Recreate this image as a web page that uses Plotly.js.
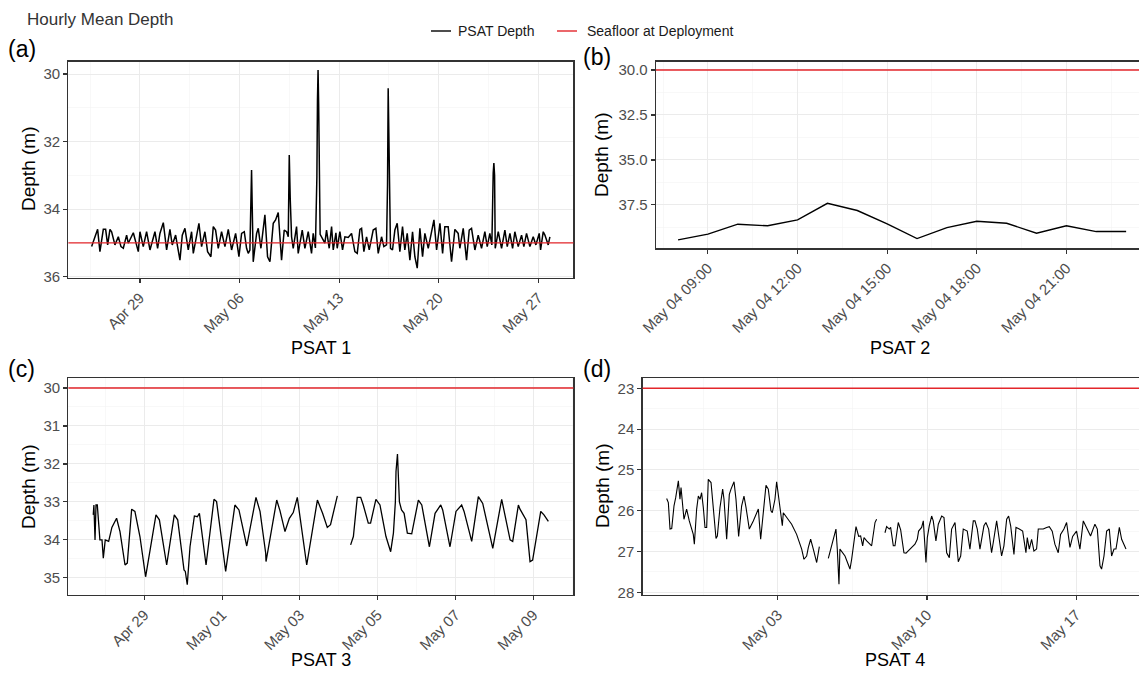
<!DOCTYPE html>
<html>
<head>
<meta charset="utf-8">
<script src="https://cdn.plot.ly/plotly-3.0.1.min.js"></script>
<style>html,body{margin:0;padding:0;background:#fff;}#chart{width:1139px;height:673px;}</style>
</head>
<body>
<div id="chart"></div>
<script>
// ---------------- DATA ----------------
const chartTitle = "Hourly Mean Depth";
const panelTags = ["(a)", "(b)", "(c)", "(d)"];
const panelNames = ["PSAT 1", "PSAT 2", "PSAT 3", "PSAT 4"];
const legendLabels = ["PSAT Depth", "Seafloor at Deployment"];
const seafloorDepth = [35, 30, 30, 23];

// PSAT 1: hours after 2021-04-29 00:00 and depth (m)
const p1Base = "2021-04-29T00:00:00";
const p1Hours = [
 -81.5,-71.4,-67.5,-61.8,-57.9,-54.5,-50.6,-47.8,-42.2,-36.5,
 -32.0,-28.1,-22.5,-19.7,-11.2,-5.6,-2.8,0,5.6,11.2,
 16.9,25.3,29.8,33.7,39.4,45.0,50.6,54.5,60.2,63.5,
 67.5,71.4,75.9,81.5,87.1,90.0,99.5,104.0,109.6,114.1,
 119.7,123.7,127.6,132.1,137.7,143.4,149.0,154.6,161.4,167.0,
 171.5,176.0,179.9,182.7,185.5,188.3,189.5,191.1,196.8,199.6,
 204.1,210.8,215.3,219.3,224.9,228.8,233.3,238.9,243.4,247.4,
 250.2,251.9,253.6,255.8,258.6,264.2,267.0,273.8,278.3,283.9,
 289.5,292.3,296.0,298.5,299.5,300.5,301.5,302.5,304.0,312.0,
 314.8,319.3,323.3,326.1,330.6,332.8,337.3,341.8,345.8,351.4,
 357.0,362.6,366.6,371.1,373.9,377.8,382.3,386.8,393.5,398.0,
 402.0,407.6,411.5,416.0,417.7,418.8,419.9,421.0,422.7,426.1,
 430.1,434.0,438.5,443.0,446.9,450.9,455.4,459.9,463.8,467.8,
 472.3,476.8,480.7,486.4,492.0,496.0,500.5,506.1,510.6,514.4,
 520.0,525.7,531.3,536.9,539.7,545.4,551.0,555.5,559.4,565.1,
 570.7,576.3,581.9,585.9,590.3,593.7,596.0,597.1,598.3,599.4,
 604.5,610.1,615.7,619.7,624.2,628.7,632.5,638.2,643.8,647.7,
 652.2,657.9,663.5,668.0,673.6,675.9,680.4,683.2,688.8,691.6
];
const p1Depth = [
 35.11,34.60,35.26,34.60,34.60,35.06,34.60,34.67,35.06,34.82,
 35.11,35.16,34.77,35.01,34.70,35.11,35.26,34.67,35.11,34.67,
 35.21,34.67,35.16,34.72,34.40,35.21,34.60,35.06,34.77,35.11,
 35.51,34.77,34.57,35.21,34.67,35.31,34.42,35.11,34.67,35.26,
 35.41,34.52,34.62,35.16,34.67,35.11,34.60,35.21,34.72,35.41,
 34.72,34.67,35.16,35.31,35.21,32.84,33.82,35.56,34.72,34.57,
 35.16,34.17,35.41,35.56,34.42,34.32,34.10,35.51,34.62,34.67,
 34.82,32.40,33.73,34.82,35.16,34.52,35.31,34.62,35.16,34.67,
 35.31,34.72,35.15,33.05,30.77,29.88,30.90,32.52,34.75,35.01,
 34.62,35.16,34.52,35.21,34.70,35.16,34.67,35.21,34.82,34.84,
 34.72,35.26,35.31,34.60,34.57,35.26,34.82,35.21,34.62,34.57,
 35.31,34.82,35.11,35.06,33.29,30.42,31.72,33.29,35.16,35.21,
 34.62,34.42,35.26,34.52,35.21,34.72,35.51,34.67,35.41,35.75,
 34.57,35.41,34.72,35.16,34.62,34.32,35.21,34.42,35.31,34.52,
 34.52,35.56,34.60,34.72,35.16,34.57,35.51,34.62,34.57,35.21,
 34.77,35.16,34.67,35.11,34.72,35.06,32.93,32.64,33.00,35.16,
 34.67,35.16,34.62,35.11,34.72,35.16,34.67,35.11,34.77,35.11,
 34.72,35.11,34.82,35.06,34.72,35.21,34.67,34.77,35.06,34.82
];

// PSAT 2: hour of day on 2021-05-04 and depth (m)
const p2Base = "2021-05-04T00:00:00";
const p2Hours = [8,9,10,11,12,13,14,15,16,17,18,19,20,21,22,23];
const p2Depth = [39.44,39.12,38.57,38.66,38.33,37.41,37.81,38.55,39.37,38.76,38.41,38.52,39.07,38.66,38.98,38.98];

// PSAT 3: hours after 2021-04-29 00:00 and depth (m); null = gap in record
const p3Base = "2021-04-29T00:00:00";
const p3Hours = [
 -31.5,-31.1,-30.4,-29.8,-29.0,-28.4,-27.4,-26.1,-25.3,-24.1,
 -22.0,-20.0,-17.1,-15.0,-11.9,-10.5,-7.8,-5.8,-2.7,0.8,
 4.5,7.2,9.3,13.8,18.5,20.6,24.5,25.3,26.5,28.2,
 30.9,32.7,34.0,38.1,43.0,44.6,50.2,55.9,58.4,63.2,
 68.9,71.4,74.9,75.1,81.7,83.7,86.8,89.5,91.9,94.4,
 100.2,106.8,110.0,112.9,114.9,119.1,
 123.0,
 127.3,129.0,131.4,133.5,135.1,138.2,139.6,142.9,145.4,149.1,
 152.0,153.7,154.9,155.3,156.2,156.6,157.4,158.7,160.3,162.3,
 165.0,169.1,171.2,175.9,179.4,182.9,184.1,188.6,192.3,195.8,
 197.3,202.0,206.1,208.8,215.0,220.5,225.7,227.3,230.8,231.8,
 235.5,238.0,239.6,244.6,246.6,249.3
];
const p3Depth = [
 33.34,33.08,34.00,33.08,33.08,33.56,34.00,34.00,34.48,34.00,
 34.04,33.67,33.43,33.78,34.66,34.61,33.19,33.25,33.91,34.97,
 34.00,33.34,33.47,34.66,33.34,33.47,34.79,34.83,35.18,34.18,
 33.37,33.39,33.30,34.66,32.93,32.99,34.83,33.08,33.21,34.16,
 32.88,33.25,34.35,34.57,32.95,33.23,33.78,33.43,33.28,32.88,
 34.66,32.95,33.30,33.67,33.60,32.84,
 null,
 34.13,33.91,32.88,32.88,33.08,33.56,33.56,32.93,33.08,33.91,
 34.31,33.82,33.00,32.20,31.74,32.42,33.00,33.21,33.30,33.82,
 33.84,32.95,33.08,34.18,33.30,33.08,33.21,34.18,33.25,33.08,
 33.25,34.04,32.86,33.04,34.22,32.93,34.00,34.04,33.08,33.19,
 33.47,34.57,34.53,33.25,33.34,33.51
];

// PSAT 4: hours after 2021-05-03 00:00 and depth (m); null = gap in record
const p4Base = "2021-05-03T00:00:00";
const p4Hours = [
 -125.3,-123.4,-121.5,-119.6,-117.0,-115.1,-112.1,-110.3,-109.1,-107.2,
 -105.8,-102.8,-99.8,-95.3,-94.1,-91.5,-89.6,-87.7,-85.9,-84.0,
 -82.1,-80.2,-78.4,-75.3,-72.7,-69.7,-68.2,-65.2,-62.2,-60.7,
 -57.7,-54.7,-52.8,-49.4,-47.2,-44.2,-40.8,-38.2,-35.9,-32.2,
 -27.7,-22.0,-19.4,-13.4,-10.8,-7.8,-6.3,-3.3,-1.4,0.9,
 3.1,5.0,6.1,9.9,15.5,21.1,26.8,29.4,32.4,34.3,
 36.9,39.9,43.7,46.7,
 51.0,
 56.8,60.6,63.2,65.4,66.9,68.8,69.9,71.8,75.6,81.2,
 83.1,88.0,91.0,93.2,95.5,97.0,100.0,105.6,109.4,111.2,
 115.0,
 120.6,122.5,125.5,127.0,130.0,131.9,135.6,138.3,142.0,144.3,
 148.8,154.4,157.0,158.5,161.9,163.8,166.8,168.3,170.5,173.2,
 175.0,178.0,180.7,184.5,187.1,190.1,193.1,195.7,199.5,203.2,
 205.9,208.8,213.3,216.3,220.1,222.0,224.6,227.6,232.1,234.3,
 237.4,240.7,242.6,246.4,248.3,252.0,254.6,257.7,259.9,262.2,
 265.9,268.2,271.9,275.7,279.4,280.9,283.2,285.8,288.4,291.4,
 293.3,298.9,302.7,305.7,309.0,312.0,315.8,318.4,322.2,325.2,
 329.0,332.0,336.4,340.2,344.0,347.0,349.6,352.2,357.1,359.8,
 362.8,364.6,367.3,370.3,373.3,375.9,378.6,380.8,382.3,384.6,
 387.2,389.9,392.1
];
const p4Depth = [
 25.70,25.80,26.45,26.44,25.88,25.68,25.27,25.72,25.43,25.96,
 26.21,25.96,26.25,26.58,26.82,25.96,25.64,25.72,25.56,25.92,
 26.41,26.41,25.23,25.31,26.00,26.68,26.62,25.92,25.47,25.72,
 26.70,25.60,25.47,25.29,25.72,26.63,25.88,25.64,25.92,26.45,
 26.25,25.96,26.70,25.38,25.47,26.00,26.05,25.72,25.29,25.72,
 26.05,26.37,26.05,26.17,26.33,26.58,26.94,27.19,27.11,26.90,
 26.70,26.94,27.27,26.88,
 null,
 27.17,26.86,26.62,26.45,26.94,27.80,26.94,26.99,27.11,27.43,
 27.19,26.39,26.63,26.62,26.86,26.66,26.74,26.86,26.29,26.21,
 null,
 26.54,26.39,26.45,26.41,26.86,26.86,26.29,26.47,27.03,27.04,
 26.94,26.82,26.70,26.50,26.41,26.25,27.27,26.66,26.37,26.13,
 26.25,26.74,26.33,26.13,26.17,27.03,27.15,26.45,26.29,27.25,
 27.11,26.45,26.50,26.94,26.25,26.25,26.45,26.94,26.37,26.29,
 26.45,27.03,26.78,26.25,26.54,27.11,26.86,26.21,26.13,26.37,
 27.07,26.41,26.45,26.50,27.03,26.66,26.94,26.70,26.99,26.94,
 26.45,26.45,26.41,26.39,26.50,26.82,27.03,26.58,26.45,26.29,
 26.90,26.63,26.50,26.94,26.25,26.39,26.50,26.62,26.33,26.45,
 27.35,27.43,27.11,26.50,26.45,27.11,26.94,26.94,26.74,26.41,
 26.70,26.82,26.94
];

// ---------------- BUILD ----------------
function toDates(base, hours) {
  const b = Date.parse(base + "Z");
  return hours.map(h => new Date(b + h * 3600000).toISOString().slice(0, 19).replace("T", " "));
}
const W = 1139, H = 673;
const px = v => v / W;
const py = v => 1 - v / H;
const DAY = 86400000, HOUR = 3600000;
const FONT = "Liberation Sans, Arial, Helvetica, sans-serif";

const traces = [
  {x: toDates(p1Base, p1Hours), y: p1Depth, xaxis: "x", yaxis: "y", type: "scatter", mode: "lines",
   line: {color: "#000", width: 1.5}, connectgaps: false, hoverinfo: "skip"},
  {x: toDates(p2Base, p2Hours), y: p2Depth, xaxis: "x2", yaxis: "y2", type: "scatter", mode: "lines",
   line: {color: "#000", width: 1.4}, hoverinfo: "skip"},
  {x: toDates(p3Base, p3Hours), y: p3Depth, xaxis: "x3", yaxis: "y3", type: "scatter", mode: "lines",
   line: {color: "#000", width: 1.3}, connectgaps: false, hoverinfo: "skip"},
  {x: toDates(p4Base, p4Hours), y: p4Depth, xaxis: "x4", yaxis: "y4", type: "scatter", mode: "lines",
   line: {color: "#000", width: 1.1}, connectgaps: false, hoverinfo: "skip"}
];

function xAxis(d0, d1, range, tick0, dtick, minorDtick, fmt, anchor) {
  return {
    domain: [px(d0), Math.min(1, px(d1))], anchor: anchor, type: "date", range: range,
    tick0: tick0, dtick: dtick, tickformat: fmt, tickangle: -45,
    showline: true, mirror: true, linecolor: "#333", linewidth: 1.3,
    ticks: "outside", ticklen: 4, tickwidth: 1.1, tickcolor: "#333",
    tickfont: {family: FONT, size: 15, color: "#4d4d4d"},
    showgrid: true, gridcolor: "#ebebeb", gridwidth: 1, zeroline: false,
    minor: {tick0: tick0, dtick: minorDtick, showgrid: true, gridcolor: "#f3f3f3", gridwidth: 0.6, ticks: ""}
  };
}
function yAxis(t0, t1, range, tick0, dtick, fmt, anchor, mirror) {
  return {
    domain: [py(t1), py(t0)], anchor: anchor, range: range,
    tick0: tick0, dtick: dtick, tickformat: fmt,
    showline: true, mirror: mirror, linecolor: "#333", linewidth: 1.3,
    ticks: "outside", ticklen: 4, tickwidth: 1.1, tickcolor: "#333",
    tickfont: {family: FONT, size: 15, color: "#4d4d4d"},
    showgrid: true, gridcolor: "#ebebeb", gridwidth: 1, zeroline: false,
    minor: {dtick: dtick / 2, showgrid: true, gridcolor: "#f3f3f3", gridwidth: 0.6, ticks: ""}
  };
}

const layout = {
  width: W, height: H, margin: {l: 0, r: 0, t: 0, b: 0},
  paper_bgcolor: "#fff", plot_bgcolor: "#fff", showlegend: false,
  font: {family: FONT, color: "#000"},
  xaxis: xAxis(68.4, 573.4, ["2021-04-23 23:17", "2021-05-29 11:17"], "2021-04-29", 7 * DAY, 3.5 * DAY, "%b %d", "y"),
  yaxis: yAxis(61.5, 278, [36.04, 29.63], 30, 2, "", "x", true),
  xaxis2: xAxis(656, 1139, ["2021-05-04 07:15:40", "2021-05-04 23:25:50"], "2021-05-04 09:00", 3 * HOUR, 1.5 * HOUR, "%b %d %H:%M", "y2"),
  yaxis2: yAxis(61.7, 248.3, [39.91, 29.54], 30, 2.5, ".1f", "x2", false),
  xaxis3: xAxis(68.4, 573.4, ["2021-04-27 01:10", "2021-05-10 00:45"], "2021-04-29", 2 * DAY, 1 * DAY, "%b %d", "y3"),
  yaxis3: yAxis(378.3, 595, [35.45, 29.745], 30, 1, "", "x3", true),
  xaxis4: xAxis(642.6, 1139, ["2021-04-26 15:37", "2021-05-19 22:45"], "2021-05-03", 7 * DAY, 3.5 * DAY, "%b %d", "y4"),
  yaxis4: yAxis(378.3, 595, [28.066, 22.755], 23, 1, "", "x4", false),
  shapes: [],
  annotations: []
};

// seafloor reference lines
const axPairs = [["x", "y"], ["x2", "y2"], ["x3", "y3"], ["x4", "y4"]];
seafloorDepth.forEach((d, i) => {
  layout.shapes.push({type: "line", xref: axPairs[i][0] + " domain", yref: axPairs[i][1],
    x0: 0, x1: 1, y0: d, y1: d, line: {color: "#e3262b", width: 1.4}, layer: "above"});
});

// legend (drawn manually to match the compact ggplot legend)
layout.shapes.push({type: "line", xref: "paper", yref: "paper", x0: px(431), x1: px(451), y0: py(31), y1: py(31), line: {color: "#000", width: 1.4}});
layout.shapes.push({type: "line", xref: "paper", yref: "paper", x0: px(557), x1: px(577), y0: py(31), y1: py(31), line: {color: "#e3262b", width: 1.4}});
function ann(text, x, y, size, opts) {
  return Object.assign({text: text, xref: "paper", yref: "paper", x: px(x), y: py(y), showarrow: false,
    xanchor: "left", yanchor: "middle", font: {family: FONT, size: size, color: "#000"}}, opts || {});
}
layout.annotations.push(ann(legendLabels[0], 456, 31, 14, {font: {family: FONT, size: 14, color: "#1a1a1a"}}));
layout.annotations.push(ann(legendLabels[1], 585, 31, 14, {font: {family: FONT, size: 14, color: "#1a1a1a"}}));
layout.annotations.push(ann(chartTitle, 25, 19, 17, {font: {family: FONT, size: 17, color: "#333"}}));

// panel tags
const tagPos = [[6, 49], [581, 57], [6, 369], [581, 369]];
panelTags.forEach((t, i) => layout.annotations.push(ann(t, tagPos[i][0], tagPos[i][1], 23)));

// y titles
const yTitlePos = [[28, 169], [602, 155], [28, 487], [602, 486]];
yTitlePos.forEach(p => layout.annotations.push(ann("Depth (m)", p[0], p[1], 19, {xanchor: "center", textangle: -90})));

// x titles
const xTitlePos = [[321, 348], [900, 348], [321, 660], [895, 660]];
panelNames.forEach((t, i) => layout.annotations.push(ann(t, xTitlePos[i][0], xTitlePos[i][1], 18, {xanchor: "center"})));

Plotly.newPlot("chart", traces, layout, {staticPlot: true, displayModeBar: false});
</script>
</body>
</html>
